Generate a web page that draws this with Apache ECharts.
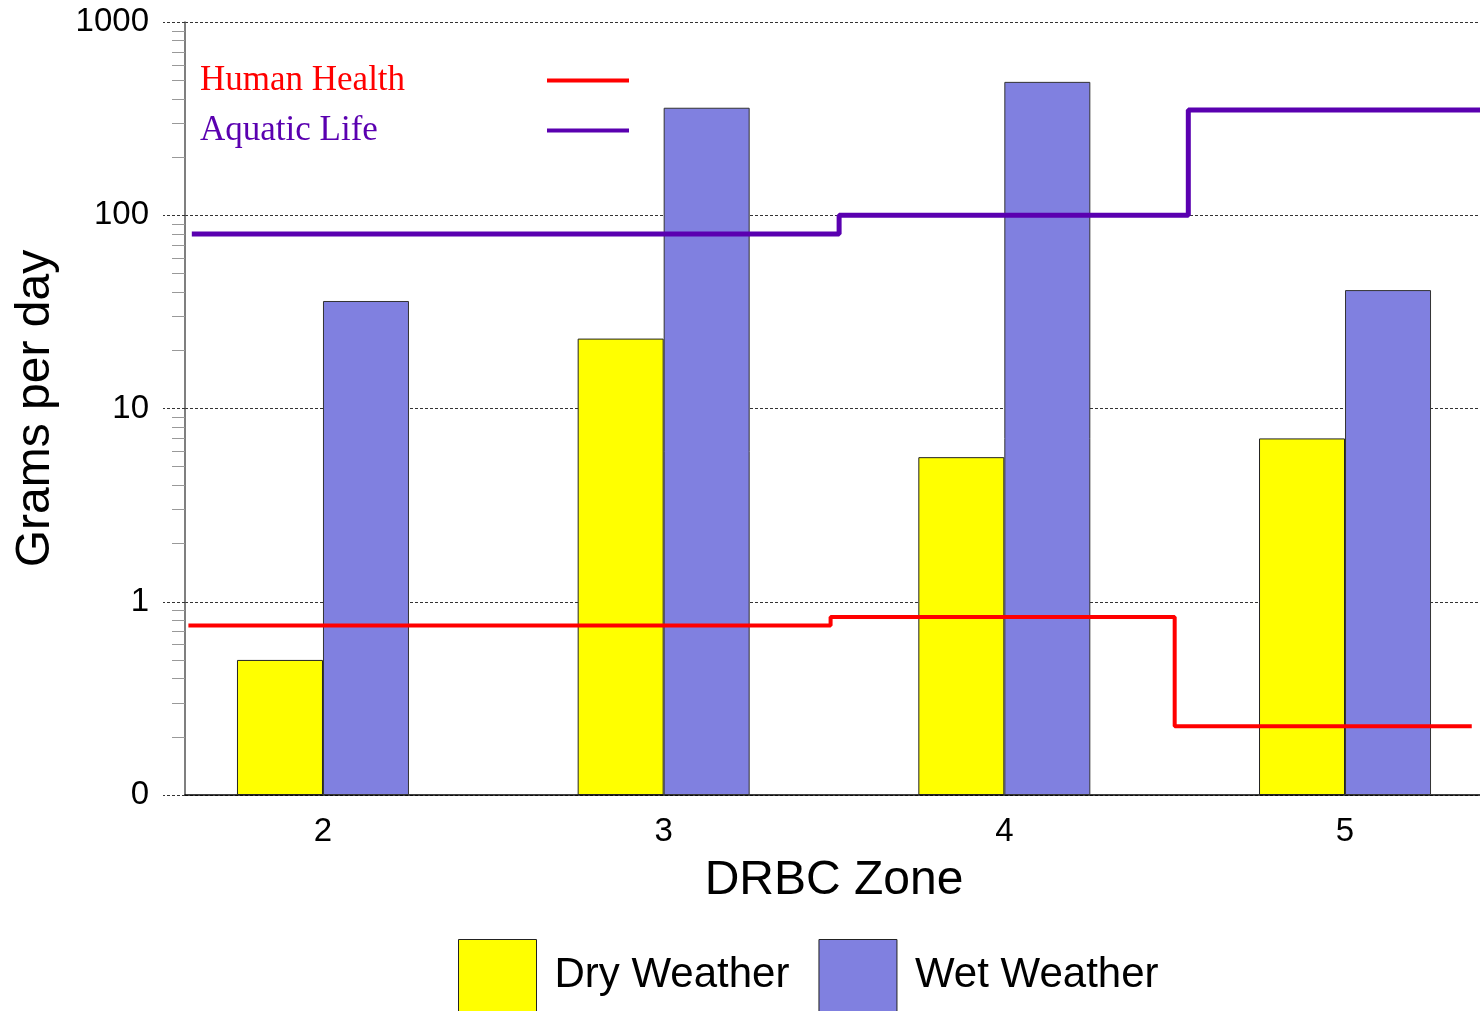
<!DOCTYPE html>
<html>
<head>
<meta charset="utf-8">
<title>DRBC Zone loads</title>
<script src="https://cdn.jsdelivr.net/npm/echarts@6/dist/echarts.min.js"></script>
<style>
  html, body { margin: 0; padding: 0; background: #fff; }
  #chart { width: 1480px; height: 1011px; }
</style>
</head>
<body>
<div id="chart"></div>
<script>
// zones on the x axis
const zones = [2, 3, 4, 5]
const zoneTicks = [2, 3, 4, 5]

// loads, grams per day
const dryWeather = [0.5, 23, 5.6, 7.0]
const wetWeather = [36, 360, 490, 41]

// criteria step lines (x = zone position where each level starts)
const humanHealthX = [1.605, 3.49, 4.5, 5.372]
const humanHealthY = [0.753, 0.834, 0.227, 0.227]
const aquaticLifeX = [1.615, 3.515, 4.54, 5.41]
const aquaticLifeY = [80, 100, 350, 350]

const SANS = 'Liberation Sans, Arial, sans-serif'
const SERIF = 'Liberation Serif, Times New Roman, serif'

const pairs = (xs, ys) => xs.map((x, i) => [x, ys[i]])

const chart = echarts.init(document.getElementById('chart'))

chart.setOption({
  backgroundColor: '#fff',
  animation: false,
  grid: { left: 185, top: 22, width: 1298, height: 773, outerBoundsMode: 'none', containLabel: false },
  legend: [
    {
      data: [
        { name: 'Human Health', textStyle: { color: '#ff0000' } },
        { name: 'Aquatic Life', textStyle: { color: '#5a00b0' } }
      ],
      orient: 'vertical',
      left: 200,
      top: 63,
      padding: 0,
      align: 'right',
      icon: 'rect',
      itemWidth: 82,
      itemHeight: 4,
      itemGap: 15,
      selectedMode: false,
      formatter: '{t|{name}}',
      textStyle: {
        fontFamily: SERIF,
        fontSize: 35,
        rich: { t: { fontFamily: SERIF, fontSize: 35, width: 342, align: 'left' } }
      }
    },
    {
      data: ['Dry Weather', 'Wet Weather'],
      left: 458,
      top: 939,
      padding: 0,
      icon: 'rect',
      itemWidth: 78,
      itemHeight: 72,
      itemGap: 29,
      selectedMode: false,
      itemStyle: { borderColor: '#222', borderWidth: 1 },
      textStyle: { fontFamily: SANS, fontSize: 42, color: '#000', padding: [0, 0, 0, 13] }
    }
  ],
  xAxis: {
    type: 'value',
    min: 1.595,
    max: 5.405,
    name: 'DRBC Zone',
    nameLocation: 'middle',
    nameGap: 62,
    nameTextStyle: { fontFamily: SANS, fontSize: 48, color: '#000' },
    axisLine: { lineStyle: { color: '#000', width: 1.5 } },
    axisTick: { show: false },
    splitLine: { show: false },
    axisLabel: {
      customValues: zoneTicks,
      fontFamily: SANS,
      fontSize: 33,
      color: '#000',
      margin: 20
    }
  },
  yAxis: {
    type: 'log',
    logBase: 10,
    min: 0.1,
    max: 1000,
    startValue: 0.1,
    name: 'Grams per day',
    nameLocation: 'middle',
    nameGap: 125,
    nameTextStyle: { fontFamily: SANS, fontSize: 48, color: '#000' },
    axisLine: { show: true, lineStyle: { color: '#555', width: 1.5 } },
    axisTick: { show: true, length: 22, lineStyle: { color: '#333', type: [3, 2], width: 1 } },
    minorTick: { show: true, splitNumber: 9, length: 13, lineStyle: { color: '#999', width: 1 } },
    splitLine: { show: true, lineStyle: { color: '#333', type: [3, 2], width: 1 } },
    axisLabel: {
      fontFamily: SANS,
      fontSize: 33,
      color: '#000',
      margin: 36,
      formatter: v => (v < 1 ? '0' : String(Math.round(v)))
    }
  },
  series: [
    {
      name: 'Dry Weather',
      type: 'bar',
      data: pairs(zones, dryWeather),
      barWidth: 86,
      barGap: '0%',
      itemStyle: { color: '#ffff00', borderColor: '#222', borderWidth: 1 }
    },
    {
      name: 'Wet Weather',
      type: 'bar',
      data: pairs(zones, wetWeather),
      barWidth: 86,
      barGap: '0%',
      itemStyle: { color: '#8080e0', borderColor: '#333', borderWidth: 1 }
    },
    {
      name: 'Human Health',
      type: 'line',
      step: 'end',
      symbol: 'none',
      data: pairs(humanHealthX, humanHealthY),
      color: '#ff0000',
      lineStyle: { color: '#ff0000', width: 4 },
      z: 5
    },
    {
      name: 'Aquatic Life',
      type: 'line',
      step: 'end',
      symbol: 'none',
      data: pairs(aquaticLifeX, aquaticLifeY),
      color: '#5a00b0',
      lineStyle: { color: '#5a00b0', width: 5 },
      z: 5
    }
  ]
})
</script>
</body>
</html>
